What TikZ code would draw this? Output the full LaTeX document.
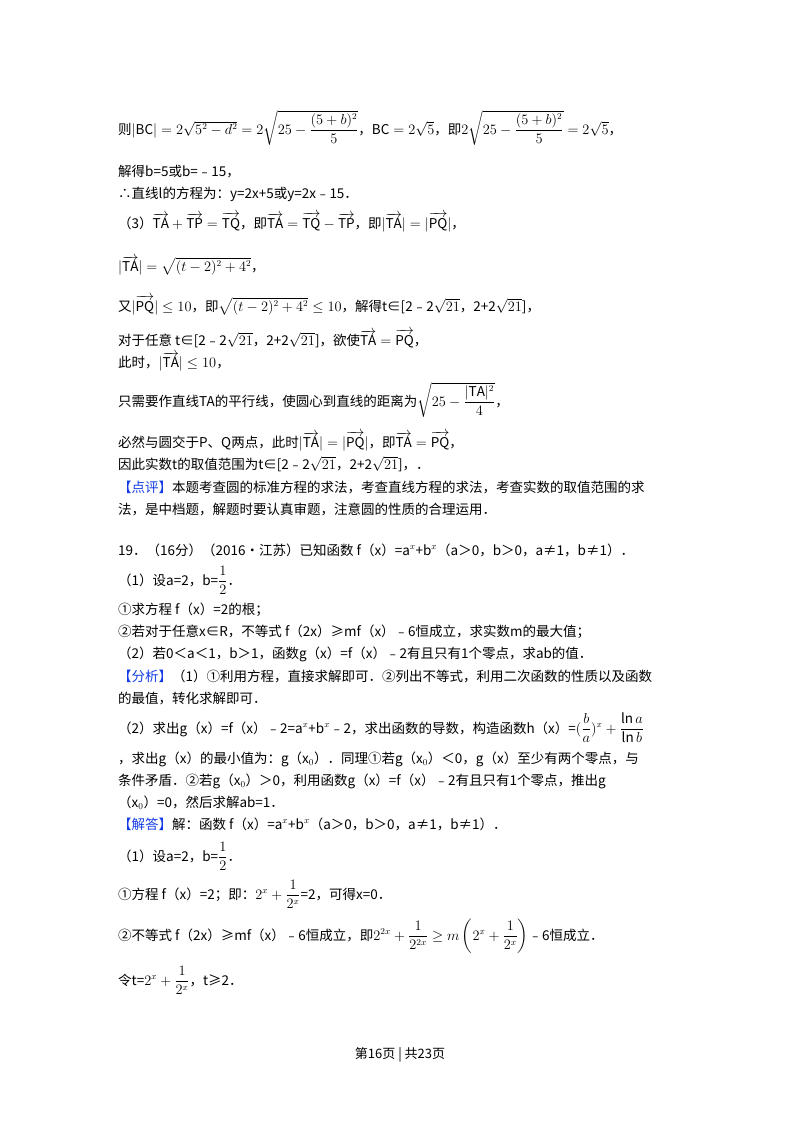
\documentclass[tikz,border=0pt]{standalone}
\usepackage{amsmath}
\usepackage{fontspec}
\setmainfont{Noto Sans CJK SC}
\definecolor{hl}{RGB}{20,60,230}
\newcommand{\vv}[1]{\overrightarrow{\mathrm{#1}}}
\newcommand{\hl}[1]{\textcolor{hl}{#1}}
\begin{document}
\begin{tikzpicture}[x=1pt,y=-1pt,ln/.style={anchor=base west,inner sep=0pt,font=\fontsize{13.5}{16}\selectfont}]
\useasboundingbox (0,0) rectangle (800,1132);
\node[ln] (l1) at (118,134) {则$|\mathrm{BC}|=2\sqrt{5^2-d^2}=2\sqrt{25-\dfrac{(5+b)^2}{5}}$，$\mathrm{BC}=2\sqrt5$，即$2\sqrt{25-\dfrac{(5+b)^2}{5}}=2\sqrt5$，};
\node[ln] (l2) at (118,176) {解得b=5或b=﹣15，};
\node[ln] (l3) at (118,198) {∴直线l的方程为：y=2x+5或y=2x﹣15．};
\node[ln] (l4) at (118,228) {（3）$\vv{TA}+\vv{TP}=\vv{TQ}$，即$\vv{TA}=\vv{TQ}-\vv{TP}$，即$|\vv{TA}|=|\vv{PQ}|$，};
\node[ln] (l5) at (118,271) {$|\vv{TA}|=\sqrt{(t-2)^2+4^2}$，};
\node[ln] (l6) at (118,311) {又$|\vv{PQ}|\le10$，即$\sqrt{(t-2)^2+4^2}\le10$，解得t∈[2﹣2$\sqrt{21}$，2+2$\sqrt{21}$]，};
\node[ln] (l7) at (118,345) {对于任意 t∈[2﹣2$\sqrt{21}$，2+2$\sqrt{21}$]，欲使$\vv{TA}=\vv{PQ}$，};
\node[ln] (l8) at (118,367) {此时，$|\vv{TA}|\le10$，};
\node[ln] (l9) at (118,406) {只需要作直线TA的平行线，使圆心到直线的距离为$\sqrt{25-\dfrac{|\mathrm{TA}|^2}{4}}$，};
\node[ln] (l10) at (118,447) {必然与圆交于P、Q两点，此时$|\vv{TA}|=|\vv{PQ}|$，即$\vv{TA}=\vv{PQ}$，};
\node[ln] (l11) at (118,469) {因此实数t的取值范围为t∈[2﹣2$\sqrt{21}$，2+2$\sqrt{21}$]，．};
\node[ln] (l12) at (118,492) {\hl{【点评】}本题考查圆的标准方程的求法，考查直线方程的求法，考查实数的取值范围的求};
\node[ln] (l13) at (118,514) {法，是中档题，解题时要认真审题，注意圆的性质的合理运用．};
\node[ln] (l14) at (118,555) {19．（16分）（2016•江苏）已知函数 f（x）=a$^{x}$+b$^{x}$（a＞0，b＞0，a≠1，b≠1）．};
\node[ln] (l15) at (118,585) {（1）设a=2，b=$\dfrac12$．};
\node[ln] (l16) at (118,614) {①求方程 f（x）=2的根；};
\node[ln] (l17) at (118,636) {②若对于任意x∈R，不等式 f（2x）≥mf（x）﹣6恒成立，求实数m的最大值；};
\node[ln] (l18) at (118,658) {（2）若0＜a＜1，b＞1，函数g（x）=f（x）﹣2有且只有1个零点，求ab的值．};
\node[ln] (l19) at (118,681) {\hl{【分析】}（1）①利用方程，直接求解即可．②列出不等式，利用二次函数的性质以及函数};
\node[ln] (l20) at (118,703) {的最值，转化求解即可．};
\node[ln] (l21) at (118,733) {（2）求出g（x）=f（x）﹣2=a$^{x}$+b$^{x}$﹣2，求出函数的导数，构造函数h（x）=$(\dfrac{b}{a})^{x}+\dfrac{\ln a}{\ln b}$};
\node[ln] (l22) at (118,763) {，求出g（x）的最小值为：g（x$_0$）．同理①若g（x$_0$）＜0，g（x）至少有两个零点，与};
\node[ln] (l23) at (118,785) {条件矛盾．②若g（x$_0$）＞0，利用函数g（x）=f（x）﹣2有且只有1个零点，推出g};
\node[ln] (l24) at (118,807) {（x$_0$）=0，然后求解ab=1．};
\node[ln] (l25) at (118,829) {\hl{【解答】}解：函数 f（x）=a$^{x}$+b$^{x}$（a＞0，b＞0，a≠1，b≠1）．};
\node[ln] (l26) at (118,861) {（1）设a=2，b=$\dfrac12$．};
\node[ln] (l27) at (118,899) {①方程 f（x）=2；即：$2^{x}+\dfrac{1}{2^{x}}$=2，可得x=0．};
\node[ln] (l28) at (118,940) {②不等式 f（2x）≥mf（x）﹣6恒成立，即$2^{2x}+\dfrac{1}{2^{2x}}\ge m\left(2^{x}+\dfrac{1}{2^{x}}\right)$﹣6恒成立．};
\node[ln] (l29) at (118,985) {令t=$2^{x}+\dfrac{1}{2^{x}}$，t≥2．};
\node[anchor=base,inner sep=0pt,font=\fontsize{13}{15}\selectfont] (ft) at (400,1058) {第16页 | 共23页};
\end{tikzpicture}
\end{document}
